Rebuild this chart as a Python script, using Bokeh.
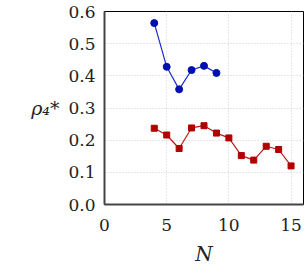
from bokeh.plotting import figure
from bokeh.models import Range1d, FixedTicker
from bokeh.embed import file_html
from bokeh.resources import INLINE

blue_n = [4, 5, 6, 7, 8, 9]
blue_rho = [0.564, 0.428, 0.358, 0.418, 0.431, 0.409]
red_n = [4, 5, 6, 7, 8, 9, 10, 11, 12, 13, 14, 15]
red_rho = [0.237, 0.216, 0.174, 0.238, 0.245, 0.222, 0.207, 0.152, 0.138, 0.181, 0.171, 0.120]
x_ticks = [0, 5, 10, 15]
y_ticks = [0.0, 0.1, 0.2, 0.3, 0.4, 0.5, 0.6]

FONT = "DejaVu Serif"

p = figure(width=306, height=268, output_backend="svg", toolbar_location=None,
           x_range=Range1d(0, 16), y_range=Range1d(0, 0.6),
           min_border_left=104, min_border_right=3, min_border_top=11, min_border_bottom=63)
p.background_fill_color = "white"
p.border_fill_color = "white"
p.outline_line_color = "black"
p.outline_line_width = 1

for ax in (p.xaxis, p.yaxis):
    ax.axis_line_color = "#444444"
    ax.axis_line_width = 2
    ax.major_tick_line_color = None
    ax.minor_tick_line_color = None
    ax.major_label_text_font = FONT
    ax.major_label_text_font_size = "17px"
    ax.major_label_text_color = "#222222"

p.xaxis.ticker = FixedTicker(ticks=x_ticks)
p.yaxis.ticker = FixedTicker(ticks=y_ticks)
p.yaxis.major_label_overrides = {t: f"{t:.1f}" for t in y_ticks}
p.xaxis.major_label_standoff = 8
p.yaxis.major_label_standoff = 3

p.xaxis.axis_label = "N"
p.xaxis.axis_label_text_font = FONT
p.xaxis.axis_label_text_font_style = "italic"
p.xaxis.axis_label_text_font_size = "20px"
p.xaxis.axis_label_text_color = "#222222"
p.xaxis.axis_label_standoff = 8

p.yaxis.axis_label = "ρ₄*"
p.yaxis.axis_label_orientation = "horizontal"
p.yaxis.axis_label_text_font = FONT
p.yaxis.axis_label_text_font_style = "italic"
p.yaxis.axis_label_text_font_size = "19px"
p.yaxis.axis_label_text_color = "#222222"
p.yaxis.axis_label_standoff = 6

for g in (p.xgrid, p.ygrid):
    g.grid_line_color = "#d0d0d0"
    g.grid_line_dash = "1 2"
    g.grid_line_width = 1
p.xgrid.ticker = FixedTicker(ticks=[5, 10, 15])
p.ygrid.ticker = FixedTicker(ticks=[0.1, 0.2, 0.3, 0.4, 0.5])

p.line(blue_n, blue_rho, line_color="#1a2ad0", line_width=1.2)
p.scatter(blue_n, blue_rho, marker="circle", size=7, fill_color="#0010b0", line_color="#0010b0")
p.line(red_n, red_rho, line_color="#c01818", line_width=1.2)
p.scatter(red_n, red_rho, marker="square", size=6, fill_color="#b00000", line_color="#b00000")

open("out.html", "w").write(file_html(p, INLINE))
